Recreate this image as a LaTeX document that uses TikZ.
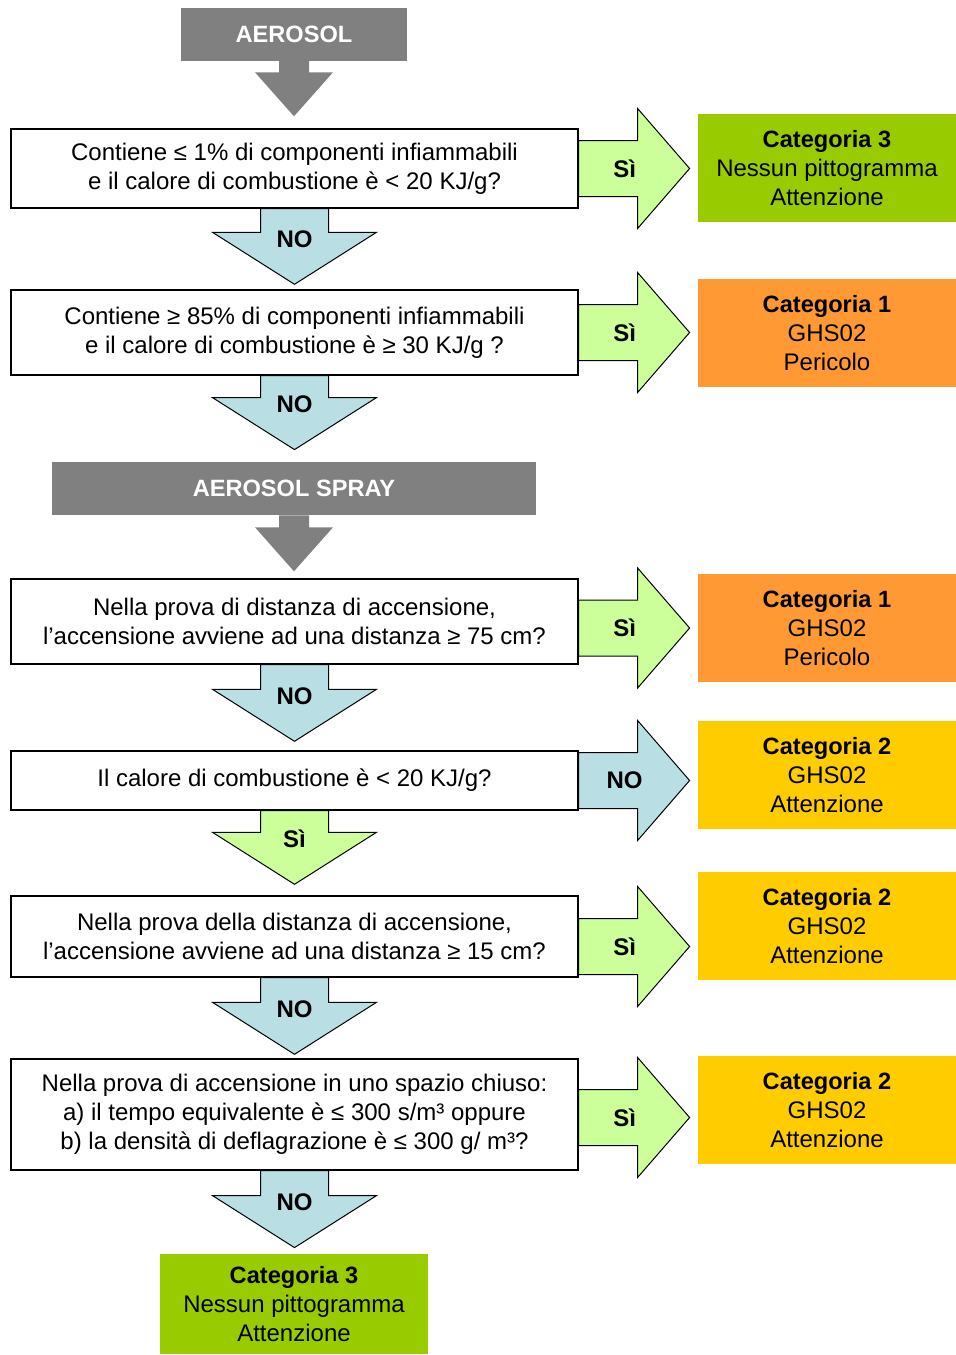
\documentclass[tikz,border=0pt]{standalone}
\usepackage{fontspec}
\setmainfont{Liberation Sans}
\usetikzlibrary{calc}

\definecolor{headgray}{HTML}{808080}
\definecolor{yesfill}{HTML}{CCFF99}
\definecolor{nofill}{HTML}{B9DFE4}
\definecolor{catgreen}{HTML}{99CC00}
\definecolor{catorange}{HTML}{FF9933}
\definecolor{catyellow}{HTML}{FFCC00}

\newcommand{\cathead}[1]{{\fontsize{11.8}{14.3}\selectfont\bfseries #1}}

% block arrow to the right: from, to, yshift, fill, label
\newcommand{\rightblock}[5]{%
  \coordinate (#1base) at ($(#1.east)+(0,#3)$);
  \coordinate (#1tmp) at (#1base -| #2.west);
  \coordinate (#1tip) at ($(#1tmp)+(-8,0)$);
  \draw[line width=0.5pt, fill=#4] ($(#1base)+(0,-28)$) -- ($(#1tip)+(-52,-28)$) -- ($(#1tip)+(-52,-60)$)
    -- (#1tip) -- ($(#1tip)+(-52,60)$) -- ($(#1tip)+(-52,28)$) -- ($(#1base)+(0,28)$) -- cycle;
  \node[answer] (#1side) at ($(#1tip)+(-65,0)$) {#5};
}

% block arrow downwards: from, to, gap, fill, label
\newcommand{\downblock}[5]{%
  \coordinate (#1tmp) at (#1.south |- #2.north);
  \coordinate (#1end) at ($(#1tmp)+(0,-#3)$);
  \draw[line width=0.5pt, fill=#4] ($(#1.south)+(-34,0)$) -- ($(#1end)+(-34,-52)$) -- ($(#1end)+(-82,-52)$)
    -- (#1end) -- ($(#1end)+(82,-52)$) -- ($(#1end)+(34,-52)$) -- ($(#1.south)+(34,0)$) -- cycle;
  \node[answer] (#1down) at ($(#1end)+(0,-45)$) {#5};
}

% grey arrow under a header: from, to, gap
\newcommand{\grayblock}[3]{%
  \coordinate (#1tmp) at (#1.south |- #2.north);
  \coordinate (#1end) at ($(#1tmp)+(0,-#3)$);
  \fill[headgray] ($(#1.south)+(-15,0)$) -- ($(#1end)+(-15,-44)$) -- ($(#1end)+(-39,-44)$)
    -- (#1end) -- ($(#1end)+(39,-44)$) -- ($(#1end)+(15,-44)$) -- ($(#1.south)+(15,0)$) -- cycle;
}

\begin{document}
\begin{tikzpicture}[x=0.5pt, y=-0.5pt,
	question/.style={rectangle, draw=black, line width=0.7pt, fill=white, minimum width=283.5pt, inner sep=0pt, align=center, font=\fontsize{12}{14.4}\selectfont},
	result/.style={rectangle, minimum width=129pt, minimum height=54pt, inner sep=0pt, align=center, font=\fontsize{12}{14.3}\selectfont},
	header/.style={rectangle, fill=headgray, text=white, inner sep=0pt, minimum height=26.5pt, font=\fontsize{11.8}{14}\selectfont\bfseries},
	answer/.style={inner sep=0pt, font=\fontsize{12}{14}\selectfont\bfseries}
]
\useasboundingbox (0,0) rectangle (956,1355);

\node[header, minimum width=113pt] (aerosol) at (294,34) {AEROSOL};
\node[question, minimum height=39.5pt] (askone) at (294.5,168.5) {Contiene ≤ 1\% di componenti infiammabili\\e il calore di combustione è < 20 KJ/g?};
\node[question, minimum height=42.5pt] (asktwo) at (294.5,332.5) {Contiene ≥ 85\% di componenti infiammabili\\e il calore di combustione è ≥ 30 KJ/g ?};
\node[header, minimum width=242pt] (spray) at (294,488.5) {AEROSOL SPRAY};
\node[question, minimum height=42.5pt] (askthree) at (294.5,621.5) {Nella prova di distanza di accensione,\\l’accensione avviene ad una distanza ≥ 75 cm?};
\node[question, minimum height=29.5pt] (askfour) at (294.5,780.5) {Il calore di combustione è < 20 KJ/g?};
\node[question, minimum height=40.5pt] (askfive) at (294.5,936.5) {Nella prova della distanza di accensione,\\l’accensione avviene ad una distanza ≥ 15 cm?};
\node[question, minimum height=55.5pt] (asksix) at (294.5,1114.5) {Nella prova di accensione in uno spazio chiuso:\\a) il tempo equivalente è ≤ 300 s/m³ oppure\\b) la densità di deflagrazione è ≤ 300 g/ m³?};

\node[result, fill=catgreen] (resone) at (827,168) {\cathead{Categoria 3}\\Nessun pittogramma\\Attenzione};
\node[result, fill=catorange] (restwo) at (827,333) {\cathead{Categoria 1}\\GHS02\\Pericolo};
\node[result, fill=catorange] (resthree) at (827,628) {\cathead{Categoria 1}\\GHS02\\Pericolo};
\node[result, fill=catyellow] (resfour) at (827,775) {\cathead{Categoria 2}\\GHS02\\Attenzione};
\node[result, fill=catyellow] (resfive) at (827,926) {\cathead{Categoria 2}\\GHS02\\Attenzione};
\node[result, fill=catyellow] (ressix) at (827,1110) {\cathead{Categoria 2}\\GHS02\\Attenzione};
\node[result, fill=catgreen, minimum width=134pt, minimum height=50pt] (reslast) at (294,1304) {\cathead{Categoria 3}\\Nessun pittogramma\\Attenzione};

\grayblock{aerosol}{askone}{12}
\grayblock{spray}{askthree}{7}

\rightblock{askone}{resone}{0}{yesfill}{Sì}
\rightblock{asktwo}{restwo}{0}{yesfill}{Sì}
\rightblock{askthree}{resthree}{6.5}{yesfill}{Sì}
\rightblock{askfour}{resfour}{0}{nofill}{NO}
\rightblock{askfive}{resfive}{10}{yesfill}{Sì}
\rightblock{asksix}{ressix}{3}{yesfill}{Sì}

\downblock{askone}{asktwo}{5}{nofill}{NO}
\downblock{asktwo}{spray}{12}{nofill}{NO}
\downblock{askthree}{askfour}{9}{nofill}{NO}
\downblock{askfour}{askfive}{11}{yesfill}{Sì}
\downblock{askfive}{asksix}{4}{nofill}{NO}
\downblock{asksix}{reslast}{6}{nofill}{NO}
\end{tikzpicture}
\end{document}
